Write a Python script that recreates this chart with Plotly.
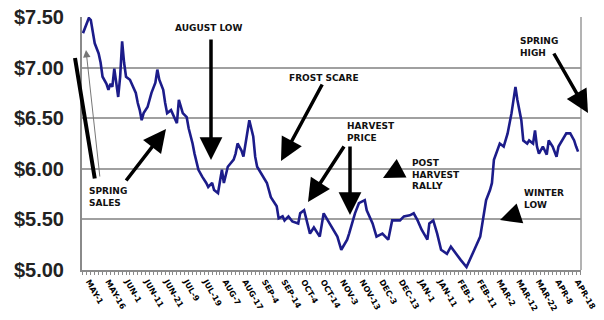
import plotly.graph_objects as go

# ---- data ----
day = [0, 2, 3, 4, 5, 6, 8, 9, 10, 12, 13, 14, 15, 16, 17, 18, 19, 20, 21, 22, 24, 27, 28, 29, 30, 31,
       33, 35, 37, 38, 39, 41, 42, 43, 45, 47, 48, 49, 51, 53, 54, 56, 57, 59, 60, 61, 63, 64, 66, 67,
       69, 71, 72, 74, 77, 78, 79, 81, 82, 84, 85, 87, 88, 89, 91, 94, 96, 99, 100, 102, 103, 105, 107,
       110, 111, 113, 116, 118, 121, 123, 126, 130, 132, 135, 136, 139, 141, 144, 145, 148, 150, 153,
       156, 158, 162, 164, 167, 169, 171, 173, 176, 177, 179, 181, 183, 186, 188, 191, 193, 196, 197,
       200, 203, 204, 206, 208, 209, 210, 212, 213, 215, 217, 219, 220, 221, 222, 224, 225, 227, 228,
       230, 231, 232, 233, 235, 237, 238, 240, 242, 243, 245, 247, 249, 251, 252, 253]
price = [7.34, 7.45, 7.49, 7.47, 7.33, 7.24, 7.14, 7.05, 6.91, 6.84, 6.78, 6.84, 6.81, 6.99, 6.85, 6.71,
         6.91, 7.26, 7.05, 6.91, 6.88, 6.75, 6.65, 6.58, 6.48, 6.55, 6.61, 6.75, 6.85, 6.98, 6.88, 6.78,
         6.65, 6.55, 6.58, 6.50, 6.45, 6.68, 6.55, 6.51, 6.40, 6.25, 6.15, 5.99, 5.95, 5.92, 5.86, 5.82,
         5.86, 5.79, 5.76, 5.99, 5.86, 6.02, 6.09, 6.15, 6.25, 6.18, 6.12, 6.35, 6.48, 6.32, 6.12, 6.02,
         5.96, 5.86, 5.72, 5.63, 5.51, 5.53, 5.49, 5.53, 5.48, 5.46, 5.56, 5.59, 5.36, 5.42, 5.33, 5.56,
         5.46, 5.33, 5.20, 5.30, 5.36, 5.56, 5.66, 5.69, 5.59, 5.46, 5.33, 5.36, 5.30, 5.49, 5.49, 5.53,
         5.54, 5.56, 5.49, 5.40, 5.30, 5.46, 5.49, 5.36, 5.20, 5.16, 5.23, 5.15, 5.10, 5.03, 5.07, 5.20,
         5.33, 5.46, 5.69, 5.79, 5.86, 6.09, 6.19, 6.25, 6.22, 6.35, 6.55, 6.71, 6.81, 6.68, 6.48, 6.28,
         6.25, 6.28, 6.25, 6.38, 6.22, 6.15, 6.22, 6.14, 6.28, 6.22, 6.12, 6.22, 6.28, 6.35, 6.35, 6.28,
         6.22, 6.17]
tick_days = [3 + 10 * k for k in range(26)]
tick_labels = ["MAY-1", "MAY-16", "JUN-1", "JUN-11", "JUN-21", "JUL-9", "JUL-19", "AUG-7", "AUG-17",
               "SEP-4", "SEP-14", "OCT-4", "OCT-14", "NOV-3", "NOV-13", "DEC-3", "DEC-13", "JAN-1",
               "JAN-11", "FEB-1", "FEB-11", "MAR-2", "MAR-12", "MAR-22", "APR-8", "APR-18"]
y_ticks = [5.0, 5.5, 6.0, 6.5, 7.0, 7.5]
y_labels = ["$5.00", "$5.50", "$6.00", "$6.50", "$7.00", "$7.50"]

# ---- layout geometry ----
W, H = 604, 320
L, R, T, B = 82, 581, 17, 270


def px(x):
    return (x - L) / (R - L)


def py(y):
    return (B - y) / (B - T)


fig = go.Figure()
fig.add_trace(go.Scatter(x=day, y=price, mode="lines",
                         line=dict(color="#1c1c8a", width=2.6), cliponaxis=False))

fig.update_layout(
    width=W, height=H, margin=dict(l=L, r=W - R, t=T, b=H - B, autoexpand=False),
    paper_bgcolor="white", plot_bgcolor="white", showlegend=False,
    xaxis=dict(range=[-0.5, 254.5], tickmode="array", tickvals=tick_days, ticktext=tick_labels,
               tickangle=60, tickfont=dict(family="DejaVu Sans", size=8, color="black", weight="bold"),
               showgrid=False, zeroline=False, showline=True, linecolor="#8a8a8a", linewidth=2,
               ticks="", mirror=False, ticklabelstandoff=2, automargin=False,
               minor=dict(tickmode="linear", tick0=0, dtick=2, ticks="outside", ticklen=3,
                          tickcolor="#8a8a8a", tickwidth=1, showgrid=False)),
    yaxis=dict(range=[5.0, 7.5], tickmode="array", tickvals=y_ticks, ticktext=y_labels,
               tickfont=dict(family="Liberation Sans", size=20, color="#222", weight="bold"),
               showgrid=True, gridcolor="#a0a0a0", gridwidth=2, zeroline=False, automargin=False,
               showline=True, linecolor="#8a8a8a", linewidth=2, ticks="", ticklabelstandoff=12),
)

# right border
fig.add_shape(type="line", xref="paper", yref="paper", x0=1, x1=1, y0=0, y1=1,
              line=dict(color="#9a9a9a", width=1.5))

afont = dict(family="DejaVu Sans", size=9, color="#111", weight="bold")


def text(x, y, s, anchor="center"):
    fig.add_annotation(xref="paper", yref="paper", x=px(x), y=py(y), text=s, showarrow=False,
                       xanchor=anchor, yanchor="middle", align="left", font=afont)


def arrow(x0, y0, x1, y1, width=3.5, color="black", size=1.3, head=2):
    fig.add_annotation(xref="paper", yref="paper", x=px(x1), y=py(y1), ax=x0 - x1, ay=y0 - y1,
                       axref="pixel", ayref="pixel", text="", showarrow=True,
                       arrowhead=head, arrowsize=size, arrowwidth=width, arrowcolor=color,
                       standoff=0, startstandoff=0)


text(209, 28, "AUGUST LOW")
arrow(211, 38, 211, 160)

text(324, 78, "FROST SCARE")
arrow(323, 83, 281, 161)

text(345, 132, "HARVEST<br>PRICE", "left")
arrow(345, 145, 308, 202)
arrow(350, 145, 350, 215)

text(410, 174, "POST<br>HARVEST<br>RALLY", "left")
arrow(402, 168, 383, 178, width=3, size=1.4)

text(522, 199, "WINTER<br>LOW", "left")
arrow(518, 214, 500, 220, width=3, size=1.4)

text(518, 47, "SPRING<br>HIGH", "left")
arrow(553, 52, 588, 113)

text(87, 197, "SPRING<br>SALES", "left")
arrow(95, 180, 75, 58, width=4, head=0)
arrow(100, 178, 86, 50, width=1, color="#777", size=1.5)
arrow(125, 182, 166, 129)

fig.write_html("out.html")
